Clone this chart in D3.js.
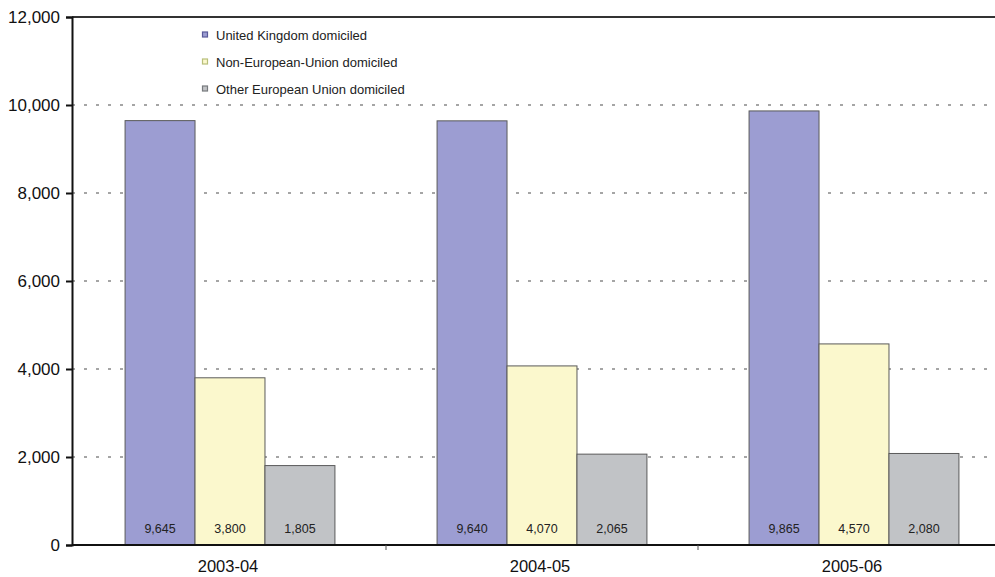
<!DOCTYPE html>
<html><head><meta charset="utf-8">
<script src="https://cdn.jsdelivr.net/npm/d3@7"></script>
<style>body{margin:0;background:#fff}svg{display:block;font-family:"Liberation Sans",Arial,sans-serif}</style>
</head><body><svg id="c" width="995" height="577"></svg>
<script>
const categories = ["2003-04", "2004-05", "2005-06"];
const seriesNames = ["United Kingdom domiciled", "Non-European-Union domiciled", "Other European Union domiciled"];
const ukValues = [9645, 9640, 9865];
const nonEuValues = [3800, 4070, 4570];
const otherEuValues = [1805, 2065, 2080];
const valueLabels = [["9,645","3,800","1,805"],["9,640","4,070","2,065"],["9,865","4,570","2,080"]];
const yTicks = [0, 2000, 4000, 6000, 8000, 10000, 12000];

const colors = ["#9c9dd2", "#fbf8cd", "#c1c3c6"];
const legendColors = ["#5a5a9a", "#b8bf7a", "#777a7e"];
const series = [ukValues, nonEuValues, otherEuValues];

const svg = d3.select("#c");
const mLeft = 72, mTop = 17, mBottom = 545, mRight = 1010;
const y = d3.scaleLinear().domain([0, 12000]).range([mBottom, mTop]);
const x0 = d3.scaleBand().domain(categories).range([mLeft + 2, mRight]).paddingInner(0).paddingOuter(0);
const x1 = d3.scaleBand().domain([0,1,2]).range([0, x0.bandwidth()]).paddingOuter(0.73).paddingInner(0);

// gridlines
svg.append("g").selectAll("line").data(yTicks.filter(d => d > 0 && d < 12000)).join("line")
  .attr("x1", mLeft).attr("x2", 995).attr("y1", d => y(d)).attr("y2", d => y(d))
  .attr("stroke", "#888").attr("stroke-width", 1.3).attr("stroke-dasharray", "3,9");

// top border
svg.append("line").attr("x1", mLeft).attr("x2", 995).attr("y1", mTop).attr("y2", mTop)
  .attr("stroke", "#333").attr("stroke-width", 2);

// bars
const g = svg.append("g");
categories.forEach((c, ci) => {
  series.forEach((s, si) => {
    g.append("rect")
      .attr("x", x0(c) + x1(si)).attr("width", x1.bandwidth())
      .attr("y", y(s[ci])).attr("height", y(0) - y(s[ci]))
      .attr("fill", colors[si]).attr("stroke", "#5a5a5a").attr("stroke-width", 1);
    g.append("text")
      .attr("x", x0(c) + x1(si) + x1.bandwidth() / 2).attr("y", 533)
      .attr("text-anchor", "middle").attr("font-size", 12.5).attr("fill", "#222")
      .text(valueLabels[ci][si]);
  });
});

// y axis
const yAxis = d3.axisLeft(y).tickValues(yTicks).tickFormat(d3.format(",")).tickSize(6).tickPadding(6);
const ya = svg.append("g").attr("transform", `translate(${mLeft},0)`).call(yAxis);
ya.select(".domain").attr("stroke", "#111").attr("stroke-width", 2);
ya.selectAll(".tick line").attr("stroke", "#111").attr("stroke-width", 2);
ya.selectAll(".tick text").attr("font-size", 17).attr("fill", "#111").attr("font-family", "Liberation Sans, Arial, sans-serif");

// x axis
svg.append("line").attr("x1", mLeft).attr("x2", 995).attr("y1", mBottom).attr("y2", mBottom)
  .attr("stroke", "#111").attr("stroke-width", 2);
svg.append("g").selectAll("line").data(categories.slice(1)).join("line")
  .attr("x1", d => x0(d)).attr("x2", d => x0(d)).attr("y1", mBottom).attr("y2", mBottom + 5)
  .attr("stroke", "#555").attr("stroke-width", 1);
svg.append("g").selectAll("text").data(categories).join("text")
  .attr("x", d => x0(d) + x0.bandwidth() / 2 - 2).attr("y", 572)
  .attr("text-anchor", "middle").attr("font-size", 16.5).attr("fill", "#111").text(d => d);

// legend
const lg = svg.append("g").attr("transform", "translate(202,35)");
seriesNames.forEach((n, i) => {
  const yy = i * 27;
  lg.append("rect").attr("x", 0.5).attr("y", yy - 3).attr("width", 5).attr("height", 5)
    .attr("fill", colors[i]).attr("stroke", legendColors[i]).attr("stroke-width", 1.2);
  lg.append("text").attr("x", 14).attr("y", yy + 4.5).attr("font-size", 13).attr("fill", "#222").text(n);
});
</script></body></html>
